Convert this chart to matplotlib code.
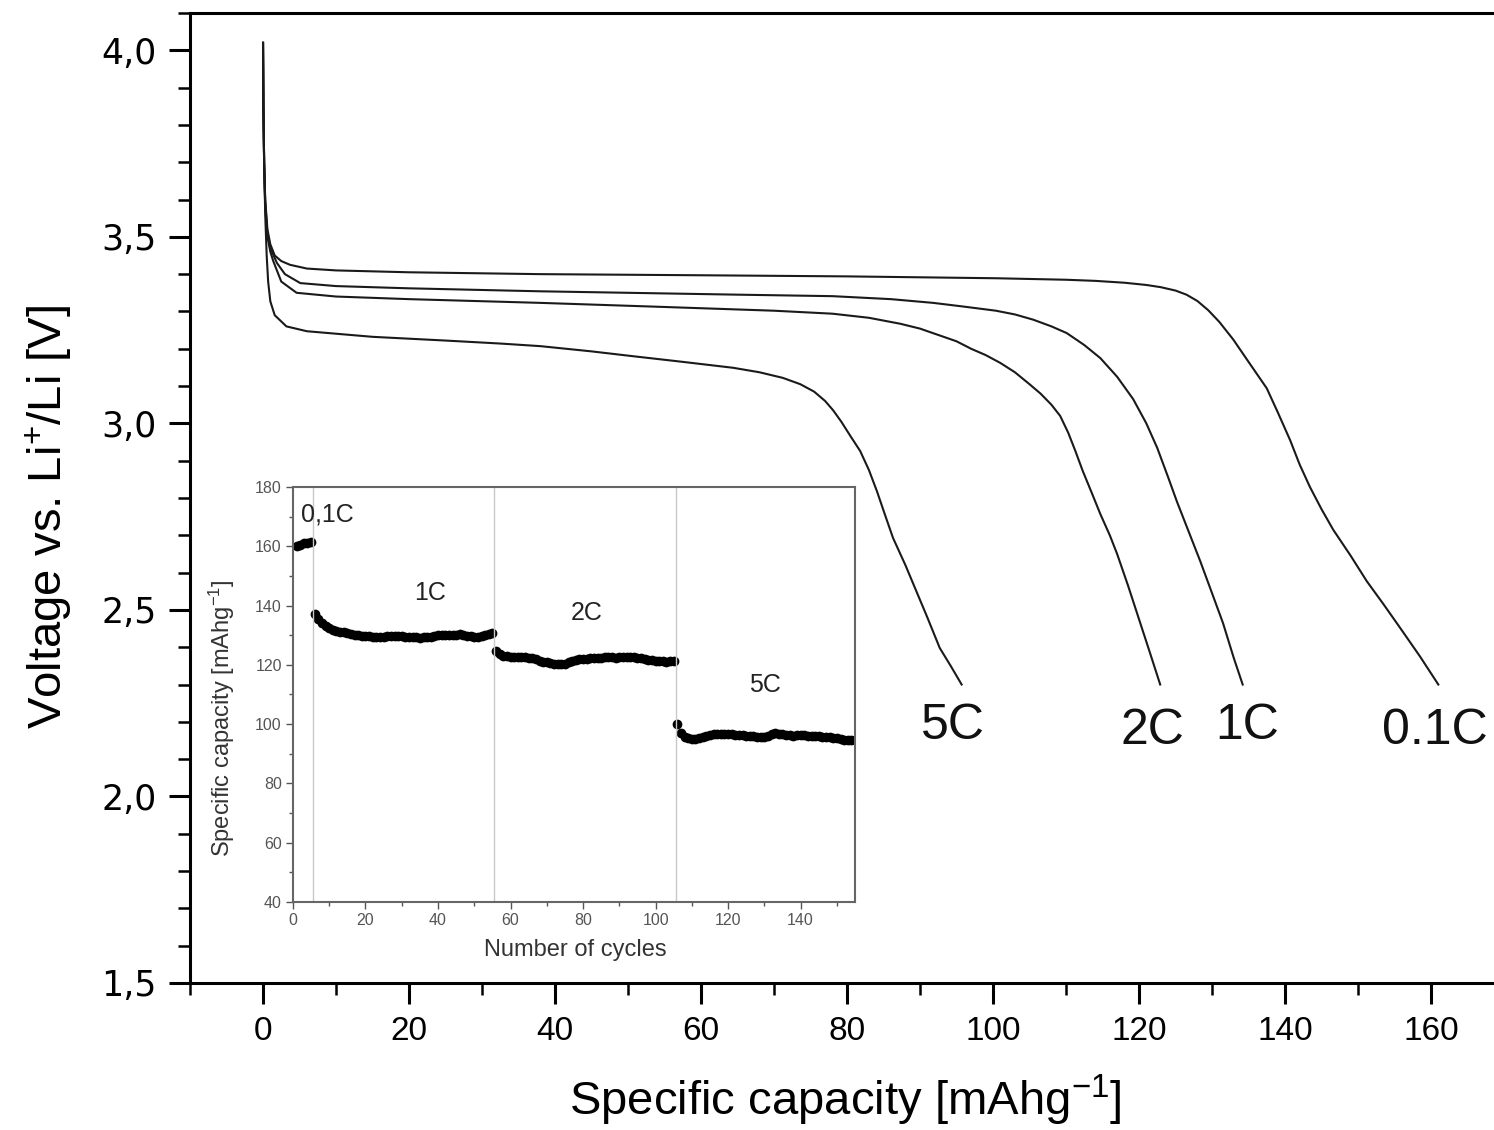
import numpy as np
import matplotlib
matplotlib.use("Agg")
import matplotlib.pyplot as plt

plt.rcParams['font.family'] = ['Liberation Sans', 'DejaVu Sans']
plt.rcParams['mathtext.fontset'] = 'custom'
plt.rcParams['mathtext.rm'] = 'Liberation Sans'
plt.rcParams['mathtext.it'] = 'Liberation Sans:italic'
plt.rcParams['mathtext.default'] = 'regular'

# discharge curves (capacity mAh/g, voltage V)
cap_01c = [0, 0.05, 0.15, 0.3, 0.6, 1.0, 1.6, 2.5, 3.7, 6, 10, 20, 38, 60, 80, 100.4,
           110, 114, 118, 121, 123, 125, 126.5, 128, 129.5, 131, 132.9, 135, 137.5,
           139, 140.7, 142, 143.4, 145, 146.6, 149, 151.2, 153.5, 155.8, 158.5, 161]
v_01c = [4.02, 3.85, 3.70, 3.60, 3.52, 3.48, 3.45, 3.435, 3.425, 3.415, 3.41, 3.405,
         3.40, 3.397, 3.394, 3.389, 3.385, 3.382, 3.377, 3.371, 3.365, 3.356, 3.345,
         3.328, 3.303, 3.272, 3.225, 3.165, 3.094, 3.03, 2.955, 2.89, 2.83, 2.77,
         2.715, 2.645, 2.577, 2.515, 2.451, 2.375, 2.30]

cap_1c = [0, 0.05, 0.15, 0.3, 0.6, 1.0, 1.9, 3.0, 5.1, 10, 20, 38, 50, 65, 78, 86,
          91.8, 96, 100.4, 103, 105.5, 108, 110.1, 112.5, 114.7, 117, 119.2, 121,
          122.5, 124, 125.2, 127, 128.4, 130, 131.5, 133, 134.2]
v_1c = [4.02, 3.85, 3.70, 3.59, 3.51, 3.47, 3.43, 3.40, 3.376, 3.368, 3.362, 3.354,
        3.35, 3.345, 3.341, 3.333, 3.323, 3.313, 3.302, 3.292, 3.278, 3.26, 3.242,
        3.21, 3.175, 3.125, 3.065, 3.0, 2.934, 2.855, 2.79, 2.70, 2.63, 2.545,
        2.465, 2.37, 2.30]

cap_2c = [0, 0.05, 0.15, 0.3, 0.6, 1.0, 1.4, 2.5, 4.6, 10, 20, 38, 55, 70, 78, 83,
          87.3, 90, 92.5, 95, 97, 99, 101, 103, 105, 106.5, 108, 109.2, 110.3, 111.3,
          112.3, 113.5, 114.7, 116, 117, 118.5, 120, 121.5, 122.9]
v_2c = [4.02, 3.85, 3.70, 3.58, 3.50, 3.46, 3.435, 3.38, 3.35, 3.34, 3.333, 3.323,
        3.312, 3.302, 3.294, 3.283, 3.267, 3.254, 3.237, 3.22, 3.20, 3.183, 3.162,
        3.137, 3.105, 3.08, 3.05, 3.02, 2.975, 2.925, 2.872, 2.815, 2.757, 2.70,
        2.65, 2.565, 2.475, 2.385, 2.30]

cap_5c = [0, 0.05, 0.15, 0.3, 0.5, 0.7, 1.0, 1.6, 3.2, 6.0, 15, 25, 32.5, 38, 45,
          50.7, 57, 64.4, 68, 71.2, 73.6, 75.5, 77, 78.1, 79.2, 80.5, 81.8, 83, 84.1,
          85.2, 86.3, 88, 89.5, 91, 92.7, 94.2, 95.7]
v_5c = [4.02, 3.85, 3.70, 3.56, 3.45, 3.38, 3.327, 3.29, 3.26, 3.247, 3.232, 3.222,
        3.214, 3.207, 3.193, 3.18, 3.166, 3.149, 3.137, 3.122, 3.105, 3.085, 3.06,
        3.035, 3.005, 2.965, 2.926, 2.875, 2.818, 2.755, 2.693, 2.62, 2.55, 2.48,
        2.398, 2.35, 2.30]

rate_labels = ['5C', '2C', '1C', '0.1C']
label_x = [94.5, 121.8, 134.8, 160.5]
label_y = [2.19, 2.175, 2.19, 2.175]

# inset: capacity per cycle
cyc_01c = [160, 160.5, 161, 161, 161.5]
cyc_1c = [137, 135.5, 134.2, 133.2, 132.3, 131.8, 131.4, 131.2, 131, 130.8,
          130.5, 130.2, 130, 129.8, 129.7, 129.6, 129.5, 129.5, 129.4, 129.5,
          129.6, 129.7, 129.8, 129.7, 129.6, 129.5, 129.4, 129.3, 129.3, 129.2,
          129.3, 129.4, 129.5, 129.8, 130, 130.1, 130.2, 130.1, 130, 130.2,
          130.3, 130.1, 129.8, 129.6, 129.4, 129.5, 129.7, 130, 130.3, 130.8]
cyc_2c = [124.5, 123.5, 123, 122.8, 122.7, 122.6, 122.6, 122.5, 122.5, 122.3,
          122.2, 121.8, 121.4, 121, 120.8, 120.6, 120.4, 120.3, 120.3, 120.4,
          120.8, 121.3, 121.7, 121.9, 122, 122.1, 122.2, 122.2, 122.3, 122.4,
          122.5, 122.5, 122.5, 122.4, 122.5, 122.6, 122.6, 122.6, 122.5, 122.4,
          122.2, 122, 121.7, 121.5, 121.3, 121.2, 121.2, 121.1, 121.2, 121.3]
cyc_5c = [100, 97, 95.8, 95.3, 95, 95.1, 95.4, 95.8, 96.1, 96.3,
          96.5, 96.6, 96.7, 96.7, 96.6, 96.5, 96.4, 96.3, 96.2, 96.1,
          96, 95.9, 95.8, 95.6, 95.5, 96, 96.6, 96.9, 96.8, 96.6,
          96.4, 96.2, 96.1, 96.2, 96.3, 96.2, 96, 95.9, 95.9, 95.9,
          95.8, 95.7, 95.5, 95.3, 95.2, 95, 94.8, 94.6, 94.5, 94.5]
rate_changes = [5.5, 55.5, 105.5]
inset_labels = ['0,1C', '1C', '2C', '5C']
inset_lx = [9.4, 37.8, 81.1, 130.2]
inset_ly = [170.6, 144.2, 137.5, 113.2]

fig = plt.figure(figsize=(14.94, 11.3), dpi=100)
ax = fig.add_axes([0.1272, 0.1301, 0.8795, 0.8584])

for c, v in [(cap_01c, v_01c), (cap_1c, v_1c), (cap_2c, v_2c), (cap_5c, v_5c)]:
    ax.plot(c, v, color='#1a1a1a', lw=1.5, solid_joinstyle='round')

for t, x, y in zip(rate_labels, label_x, label_y):
    ax.text(x, y, t, fontsize=36, ha='center', va='center', color='#111')

ax.set_xlim(-10, 170)
ax.set_ylim(1.5, 4.1)
ax.set_xticks([0, 20, 40, 60, 80, 100, 120, 140, 160])
ax.set_xticks(np.arange(-10, 171, 10), minor=True)
ax.set_yticks([1.5, 2.0, 2.5, 3.0, 3.5, 4.0])
ax.set_yticklabels(['1,5', '2,0', '2,5', '3,0', '3,5', '4,0'], family='DejaVu Sans', fontsize=25)
ax.set_yticks(np.arange(1.5, 4.11, 0.1), minor=True)
ax.tick_params(axis='x', which='major', labelsize=24)
ax.tick_params(which='major', direction='out', length=15, width=2.2, pad=9)
ax.tick_params(which='minor', direction='out', length=8.5, width=1.8)
ax.tick_params(top=False, right=False)
for s in ax.spines.values():
    s.set_linewidth(2.2)

ax.set_xlabel('Specific capacity [mAhg$^{-1}$]', fontsize=34)
ax.set_ylabel('Voltage vs. Li$^{+}$/Li [V]', fontsize=34)
ax.xaxis.set_label_coords(0.499, -0.093)
ax.yaxis.set_label_coords(-0.088, 0.48)

# inset
ins = fig.add_axes([0.1961, 0.2018, 0.3762, 0.3673])
ins.plot(range(1, 6), cyc_01c, 'o', color='black', ms=6)
ins.plot(range(6, 56), cyc_1c, 'o', color='black', ms=6)
ins.plot(range(56, 106), cyc_2c, 'o', color='black', ms=6)
ins.plot(range(106, 156), cyc_5c, 'o', color='black', ms=6)
for xc in rate_changes:
    ins.axvline(xc, color='#c8c8c8', lw=1)
for t, x, y in zip(inset_labels, inset_lx, inset_ly):
    ins.text(x, y, t, fontsize=18, ha='center', va='center', color='#222')

ins.set_xlim(0, 155)
ins.set_ylim(40, 180)
ins.set_xticks(range(0, 141, 20))
ins.set_xticks(range(0, 156, 10), minor=True)
ins.set_yticks(range(40, 181, 20))
ins.set_yticks(range(40, 181, 10), minor=True)
ins.tick_params(which='major', direction='out', length=5, width=1, colors='#555', labelsize=11.5, pad=3)
ins.tick_params(which='minor', direction='out', length=3, width=1, colors='#555')
for s in ins.spines.values():
    s.set_color('#666')
    s.set_linewidth(1.5)
ins.set_xlabel('Number of cycles', fontsize=17, color='#333')
ins.set_ylabel('Specific capacity [mAhg$^{-1}$]', fontsize=17, color='#333')
ins.xaxis.set_label_coords(0.502, -0.09)
ins.yaxis.set_label_coords(-0.1, 0.443)

fig.savefig('out.png', dpi=100)
